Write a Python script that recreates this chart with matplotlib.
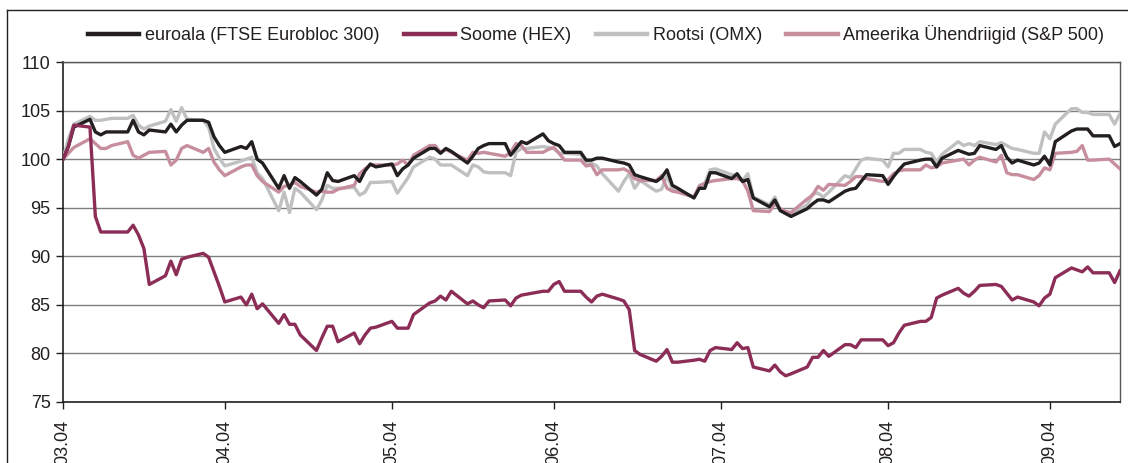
import pandas as pd
import matplotlib
matplotlib.use("Agg")
import matplotlib.pyplot as plt
import matplotlib.dates as mdates
from matplotlib.lines import Line2D

plt.rcParams['font.family'] = ['Liberation Sans', 'DejaVu Sans']

# trading days, 31.03.2004 - 13.10.2004
dates = pd.bdate_range('2004-03-31', '2004-10-13')

euroala = [
    100.0, 101.3, 103.3,
    104.1, 102.8, 102.5, 102.8, 102.8,
    102.8, 104.0, 102.8, 102.5, 103.0,
    102.8, 103.6, 102.8, 103.5, 104.0,
    104.0, 103.8, 102.3, 101.4, 100.7,
    101.3, 101.1, 101.8, 100.0, 99.6,
    97.0, 98.3, 97.0, 98.1, 97.7,
    96.3, 96.9, 98.6, 97.8, 97.7,
    98.3, 97.7, 98.8, 99.5, 99.2,
    99.5, 98.3, 99.0, 99.4,
    100.1,
    101.1, 101.1, 100.6, 101.1, 100.8,
    99.6, 100.3, 101.1, 101.4, 101.6,
    101.6, 100.4, 101.1, 101.8, 101.6,
    102.6, 101.9, 101.6, 101.4, 100.7,
    100.7, 99.9, 99.9, 100.1, 100.1,
    99.7, 99.6, 99.4, 98.4, 98.2,
    97.7, 98.1, 98.9, 97.3, 97.0,
    96.0, 97.0, 97.0, 98.6, 98.6,
    98.0, 98.5, 97.7, 97.9, 96.0,
    95.1, 95.8, 94.7, 94.4, 94.1,
    94.9, 95.4, 95.8, 95.8, 95.6,
    96.7, 96.9, 97.0, 97.7, 98.4,
    98.3, 97.4, 98.2, 98.9, 99.5,
    99.9, 100.0, 100.0, 99.2, 100.1,
    100.9, 100.7, 100.5, 100.6, 101.4,
    101.0, 101.4, 100.2, 99.6, 99.9,
    99.4, 99.6, 100.3, 99.4, 101.8,
    102.9, 103.1, 103.1, 103.1, 102.4,
    102.4, 101.3, 101.6,
]

soome = [
    100.0, 101.3, 103.5,
    103.3, 94.1, 92.5, 92.5, 92.5,
    92.5, 93.2, 92.2, 90.8, 87.1,
    88.0, 89.5, 88.1, 89.7, 89.9,
    90.3, 89.9, 88.4, 86.9, 85.3,
    85.8, 85.0, 86.1, 84.6, 85.1,
    83.1, 84.0, 83.0, 83.0, 81.9,
    80.3, 81.6, 82.8, 82.8, 81.2,
    82.1, 81.0, 81.9, 82.6, 82.7,
    83.3, 82.6, 82.6, 82.6,
    84.0,
    85.2, 85.4, 85.9, 85.5, 86.4,
    85.1, 85.4, 85.0, 84.7, 85.4,
    85.5, 84.9, 85.7, 86.0, 86.1,
    86.4, 86.4, 87.1, 87.4, 86.4,
    86.4, 85.8, 85.3, 85.9, 86.1,
    85.6, 85.4, 84.5, 80.3, 79.9,
    79.2, 79.7, 80.4, 79.1, 79.1,
    79.3, 79.4, 79.2, 80.3, 80.6,
    80.4, 81.1, 80.5, 80.6, 78.6,
    78.2, 78.8, 78.1, 77.7, 77.9,
    78.6, 79.6, 79.6, 80.3, 79.7,
    80.9, 80.9, 80.6, 81.4, 81.4,
    81.4, 80.8, 81.1, 82.1, 82.9,
    83.3, 83.3, 83.7, 85.7, 86.0,
    86.7, 86.2, 85.9, 86.4, 87.0,
    87.1, 86.9, 86.2, 85.5, 85.8,
    85.3, 84.9, 85.7, 86.1, 87.8,
    88.8, 88.6, 88.4, 88.9, 88.3,
    88.3, 87.3, 88.5,
]

rootsi = [
    100.0, 102.1, 103.6,
    104.4, 104.0, 104.0, 104.1, 104.2,
    104.2, 104.5, 103.5, 103.1, 103.4,
    103.9, 105.1, 103.9, 105.3, 104.1,
    104.0, 103.3, 101.1, 100.1, 99.3,
    99.8, 100.0, 100.2, 98.6, 98.0,
    94.7, 96.6, 94.5, 97.0, 96.6,
    94.8, 95.8, 97.3, 97.0, 97.0,
    97.1, 96.3, 96.6, 97.6, 97.6,
    97.7, 96.5, 97.3, 98.1,
    99.2,
    100.2, 100.0, 99.4, 99.4, 99.4,
    98.3, 99.4, 99.2, 98.7, 98.6,
    98.6, 98.3, 100.7, 101.1, 101.1,
    101.3, 101.2, 101.1, 100.6, 100.6,
    100.5, 99.7, 99.6, 99.3, 98.5,
    96.7, 97.7, 98.5, 97.0, 97.8,
    96.7, 96.9, 98.3, 96.9, 96.7,
    96.1, 97.3, 97.5, 98.9, 99.0,
    98.4, 98.3, 97.8, 98.5, 96.1,
    95.3, 96.1, 94.8, 94.5, 94.3,
    95.3, 96.4, 96.5, 96.1, 96.6,
    98.3, 98.1, 99.0, 99.9, 100.1,
    99.9, 99.2, 100.6, 100.6, 101.0,
    101.0, 100.7, 100.6, 99.7, 100.5,
    101.8, 101.4, 101.6, 101.4, 101.8,
    101.5, 101.7, 101.4, 101.1, 101.0,
    100.6, 100.6, 102.8, 102.1, 103.6,
    105.2, 105.2, 104.8, 104.8, 104.6,
    104.6, 103.6, 104.7,
]

ameerika = [
    100.0, 100.6, 101.2,
    102.1, 101.6, 101.1, 101.1, 101.4,
    101.8, 100.4, 100.1, 100.4, 100.7,
    100.8, 99.4, 99.9, 101.1, 101.4,
    100.7, 101.1, 99.7, 98.9, 98.3,
    99.2, 99.4, 99.4, 98.3, 97.7,
    96.6, 97.2, 97.3, 97.6, 97.2,
    96.6, 96.7, 96.6, 96.6, 96.9,
    97.3, 98.5, 99.0, 99.4, 99.4,
    99.4, 99.5, 99.9, 99.4,
    100.4,
    101.4, 101.4, 100.7, 101.0, 100.7,
    99.9, 100.7, 100.6, 100.7, 100.6,
    100.3, 100.7, 101.6, 101.4, 100.7,
    100.7, 101.0, 101.2, 100.6, 99.9,
    99.9, 99.3, 99.4, 98.4, 98.9,
    98.9, 99.0, 98.7, 98.0, 97.8,
    97.8, 98.3, 97.0, 96.7, 96.6,
    96.1, 97.2, 97.5, 97.7, 97.8,
    98.0, 98.0, 97.8, 96.7, 94.7,
    94.6, 95.4, 94.9, 94.6, 94.5,
    95.9, 96.3, 97.2, 96.8, 97.4,
    97.3, 97.7, 98.2, 98.2, 98.0,
    97.7, 97.9, 98.5, 98.8, 98.9,
    98.9, 99.4, 99.1, 99.2, 99.6,
    99.9, 100.0, 99.4, 99.9, 100.2,
    99.7, 100.4, 98.6, 98.4, 98.4,
    97.9, 98.3, 99.1, 98.9, 100.6,
    100.7, 100.8, 101.4, 99.9, 99.9,
    100.0, 99.5, 99.0,
]

labels = ['euroala (FTSE Eurobloc 300)', 'Soome (HEX)', 'Rootsi (OMX)',
          'Ameerika Ühendriigid (S&P 500)']
colors = ['#231f20', '#8c2d57', '#bfc0c2', '#c78e9d']
tick_dates = pd.to_datetime(['2004-03-31', '2004-04-30', '2004-05-31', '2004-06-30',
                             '2004-07-31', '2004-08-31', '2004-09-30'])

dark = '#231f20'
fs = 13
fig = plt.figure(figsize=(11.28, 4.63), dpi=100)
ax = fig.add_axes([63 / 1128, 1 - 402 / 463, (1120 - 63) / 1128, (402 - 62) / 463])

lw = 2.4
l_grey, = ax.plot(dates, rootsi, color=colors[2], lw=lw, zorder=3)
l_pink, = ax.plot(dates, ameerika, color=colors[3], lw=lw, zorder=4)
l_black, = ax.plot(dates, euroala, color=colors[0], lw=lw, zorder=5)
l_red, = ax.plot(dates, soome, color=colors[1], lw=lw, zorder=6)

ax.set_ylim(75, 110)
ax.set_yticks(range(75, 111, 5))
ax.set_xlim(pd.Timestamp('2004-03-31'), pd.Timestamp('2004-10-13'))
ax.set_xticks(tick_dates)
ax.xaxis.set_major_formatter(mdates.DateFormatter('%m.%y'))
ax.tick_params(axis='x', rotation=90, length=5, width=1, pad=8, colors=dark,
               labelsize=fs)
ax.tick_params(axis='y', length=5, width=1, pad=4, colors=dark, labelsize=fs)

ax.grid(axis='y', color='#7f7f7f', lw=1.0, zorder=1)
for s in ['left', 'bottom']:
    ax.spines[s].set_color(dark)
    ax.spines[s].set_linewidth(1.2)
for s in ['top', 'right']:
    ax.spines[s].set_color('#555555')
    ax.spines[s].set_linewidth(1.0)

leg = fig.legend([l_black, l_red, l_grey, l_pink], labels, ncol=4, frameon=False,
                 loc='center', bbox_to_anchor=(596 / 1128, 1 - 35 / 463),
                 fontsize=fs, handlelength=2.85, handletextpad=0.3,
                 columnspacing=1.35, labelcolor=dark)
for h in leg.legend_handles:
    h.set_linewidth(3.2)

# outer chart frame (only top and left edges fall inside the picture)
fig.add_artist(Line2D([7 / 1128, 7 / 1128], [0, 1 - 10 / 463], color=dark, lw=1.0))
fig.add_artist(Line2D([7 / 1128, 1], [1 - 10 / 463, 1 - 10 / 463], color=dark, lw=1.0))

fig.savefig('out.png', dpi=100)
